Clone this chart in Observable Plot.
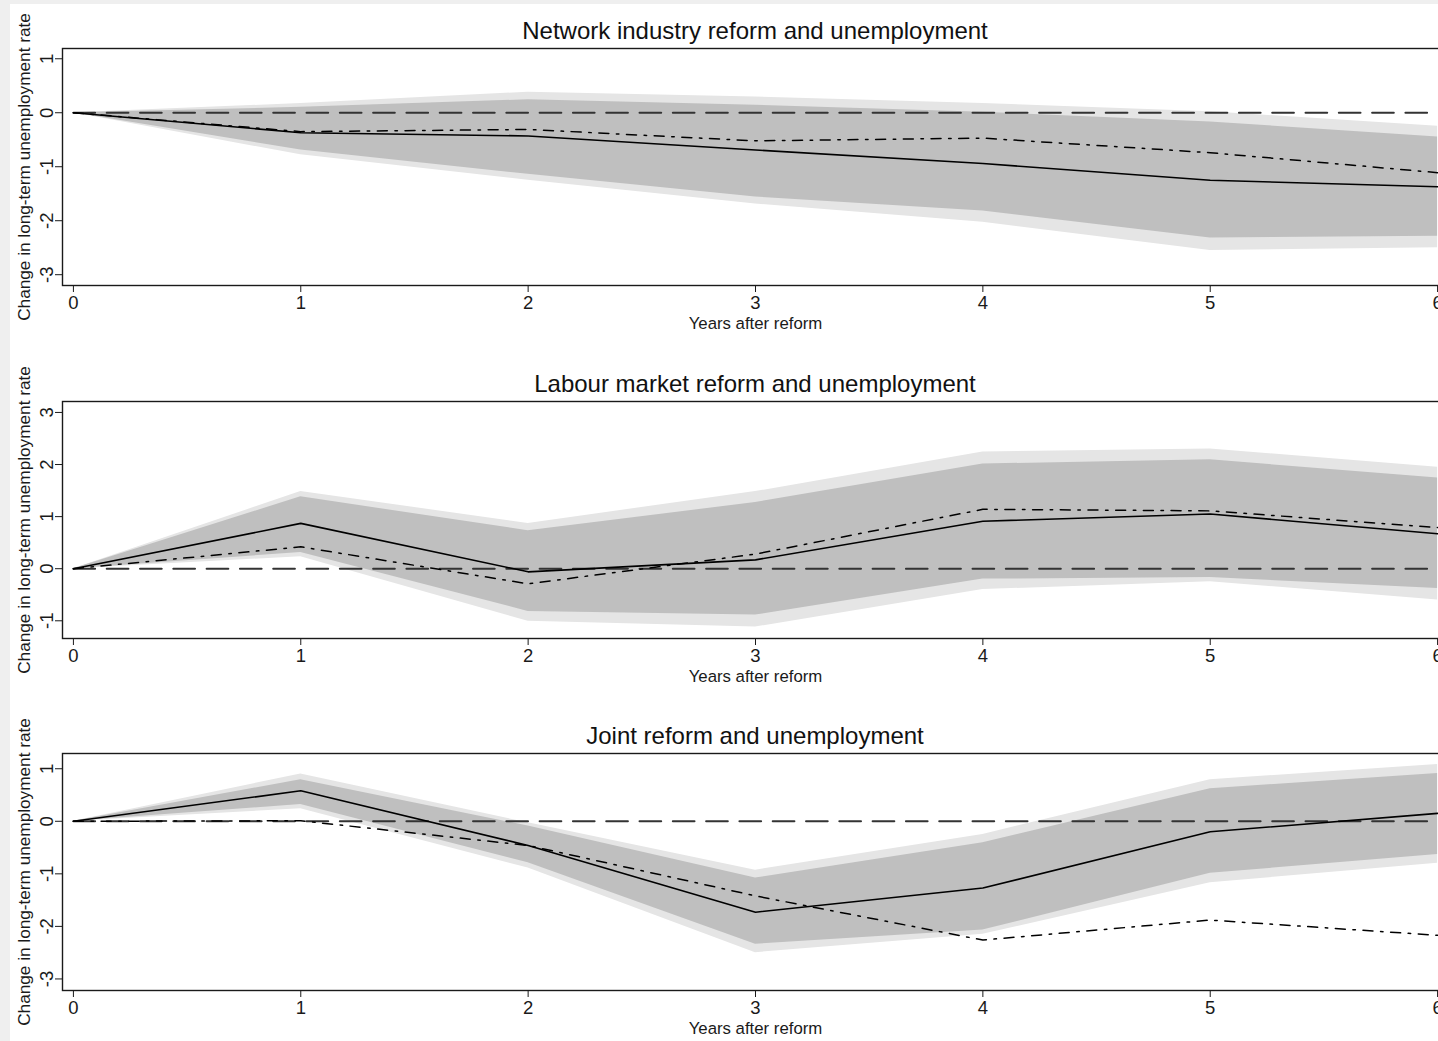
<!DOCTYPE html>
<html><head><meta charset="utf-8">
<script src="https://cdn.jsdelivr.net/npm/d3@7"></script>
<script src="https://cdn.jsdelivr.net/npm/@observablehq/plot@0.6"></script>
<style>
html,body{margin:0;padding:0;overflow:hidden;}
body{background:#efefef;width:1438px;height:1041px;position:relative;font-family:"Liberation Sans",Arial,Helvetica,sans-serif;}
#sheet{position:absolute;left:10px;top:4px;width:1428px;height:1037px;background:#fff;overflow:hidden;}
.title{position:absolute;left:52px;width:1386px;text-align:center;font-size:24px;line-height:24px;color:#111;white-space:nowrap;}
.panel{position:absolute;left:0;}
</style></head><body><div id="sheet"></div>
<script>
// ---- data ----
const years = [0, 1, 2, 3, 4, 5, 6];
const titles = ["Network industry reform and unemployment", "Labour market reform and unemployment", "Joint reform and unemployment"];
const yLabel = "Change in long-term unemployment rate";
const xLabel = "Years after reform";

// Panel 1: network industry reform
const netSolid   = [0, -0.37, -0.43, -0.69, -0.94, -1.25, -1.37];
const netDashDot = [0, -0.35, -0.31, -0.52, -0.47, -0.74, -1.11];
const netInnerHi = [0, 0.10, 0.24, 0.14, 0.01, -0.17, -0.45];
const netInnerLo = [0, -0.69, -1.14, -1.56, -1.82, -2.32, -2.29];
const netOuterHi = [0, 0.17, 0.38, 0.29, 0.17, 0.02, -0.25];
const netOuterLo = [0, -0.78, -1.25, -1.69, -2.03, -2.55, -2.50];
const netTicks   = [-3, -2, -1, 0, 1];

// Panel 2: labour market reform
const labSolid   = [0, 0.87, -0.06, 0.17, 0.91, 1.05, 0.67];
const labDashDot = [0, 0.42, -0.29, 0.28, 1.14, 1.11, 0.79];
const labInnerHi = [0, 1.38, 0.73, 1.27, 2.01, 2.09, 1.74];
const labInnerLo = [0, 0.31, -0.82, -0.89, -0.20, -0.17, -0.38];
const labOuterHi = [0, 1.48, 0.87, 1.48, 2.24, 2.30, 1.95];
const labOuterLo = [0, 0.23, -1.01, -1.12, -0.40, -0.25, -0.60];
const labTicks   = [-1, 0, 1, 2, 3];

// Panel 3: joint reform
const jntSolid   = [0, 0.58, -0.46, -1.73, -1.27, -0.20, 0.15];
const jntDashDot = [0, 0.01, -0.46, -1.42, -2.26, -1.88, -2.17];
const jntInnerHi = [0, 0.79, -0.09, -1.08, -0.41, 0.62, 0.91];
const jntInnerLo = [0, 0.32, -0.79, -2.34, -2.07, -0.99, -0.63];
const jntOuterHi = [0, 0.90, -0.03, -0.93, -0.25, 0.79, 1.08];
const jntOuterLo = [0, 0.24, -0.89, -2.50, -2.15, -1.17, -0.80];
const jntTicks   = [-3, -2, -1, 0, 1];

const panels = [
  {title: titles[0], solid: netSolid, dd: netDashDot, iHi: netInnerHi, iLo: netInnerLo, oHi: netOuterHi, oLo: netOuterLo, ticks: netTicks, domain: [-3.2, 1.19], frameTop: 44},
  {title: titles[1], solid: labSolid, dd: labDashDot, iHi: labInnerHi, iLo: labInnerLo, oHi: labOuterHi, oLo: labOuterLo, ticks: labTicks, domain: [-1.34, 3.21], frameTop: 397},
  {title: titles[2], solid: jntSolid, dd: jntDashDot, iHi: jntInnerHi, iLo: jntInnerLo, oHi: jntOuterHi, oLo: jntOuterLo, ticks: jntTicks, domain: [-3.22, 1.29], frameTop: 749.3}
];

const sheet = document.getElementById("sheet");
const marginTop = 4, plotH = 237, marginBottom = 52, marginLeft = 52;

for (const p of panels) {
  const rows = years.map((x, i) => ({x, solid: p.solid[i], dd: p.dd[i], iHi: p.iHi[i], iLo: p.iLo[i], oHi: p.oHi[i], oLo: p.oLo[i], zero: 0}));
  const t = document.createElement("div");
  t.className = "title";
  t.textContent = p.title;
  t.style.top = (p.frameTop - 9 - 20.3) + "px";
  sheet.appendChild(t);

  const chart = Plot.plot({
    width: 1438,
    height: marginTop + plotH + marginBottom,
    marginTop, marginBottom, marginLeft, marginRight: 0,
    style: {fontFamily: "'Liberation Sans', Arial, sans-serif", fontSize: "18px", background: "transparent", maxWidth: "none", overflow: "visible", color: "#1a1a1a"},
    x: {domain: [-0.048, 6.048]},
    y: {domain: p.domain},
    marks: [
      Plot.areaY(rows, {x: "x", y1: "oLo", y2: "oHi", fill: "#e5e5e5"}),
      Plot.areaY(rows, {x: "x", y1: "iLo", y2: "iHi", fill: "#bfbfbf"}),
      Plot.lineY(rows, {x: "x", y: "zero", stroke: "#333", strokeWidth: 2, strokeDasharray: "21.7,11.6"}),
      Plot.lineY(rows, {x: "x", y: "dd", stroke: "#000", strokeWidth: 1.5, strokeDasharray: "10,7.6,2.5,7.6"}),
      Plot.lineY(rows, {x: "x", y: "solid", stroke: "#000", strokeWidth: 1.6}),
      Plot.frame({stroke: "#1a1a1a", strokeWidth: 1.4}),
      Plot.axisY({ticks: p.ticks, tickRotate: -90, tickSize: 7, tickFormat: d => String(d), fontSize: 18.5, label: null}),
      Plot.axisX({ticks: years, tickSize: 7, tickFormat: d => String(d), fontSize: 18.5, label: null}),
      Plot.text([xLabel], {text: d => d, frameAnchor: "bottom", textAnchor: "middle", dy: 43.5, lineAnchor: "bottom", fontSize: 16.8}),
      Plot.text([yLabel], {text: d => d, frameAnchor: "left", textAnchor: "middle", rotate: -90, dx: -33, lineAnchor: "bottom", fontSize: 17.2})
    ]
  });
  chart.classList.add("panel");
  chart.style.top = (p.frameTop - marginTop) + "px";
  sheet.appendChild(chart);
}
</script></body></html>
